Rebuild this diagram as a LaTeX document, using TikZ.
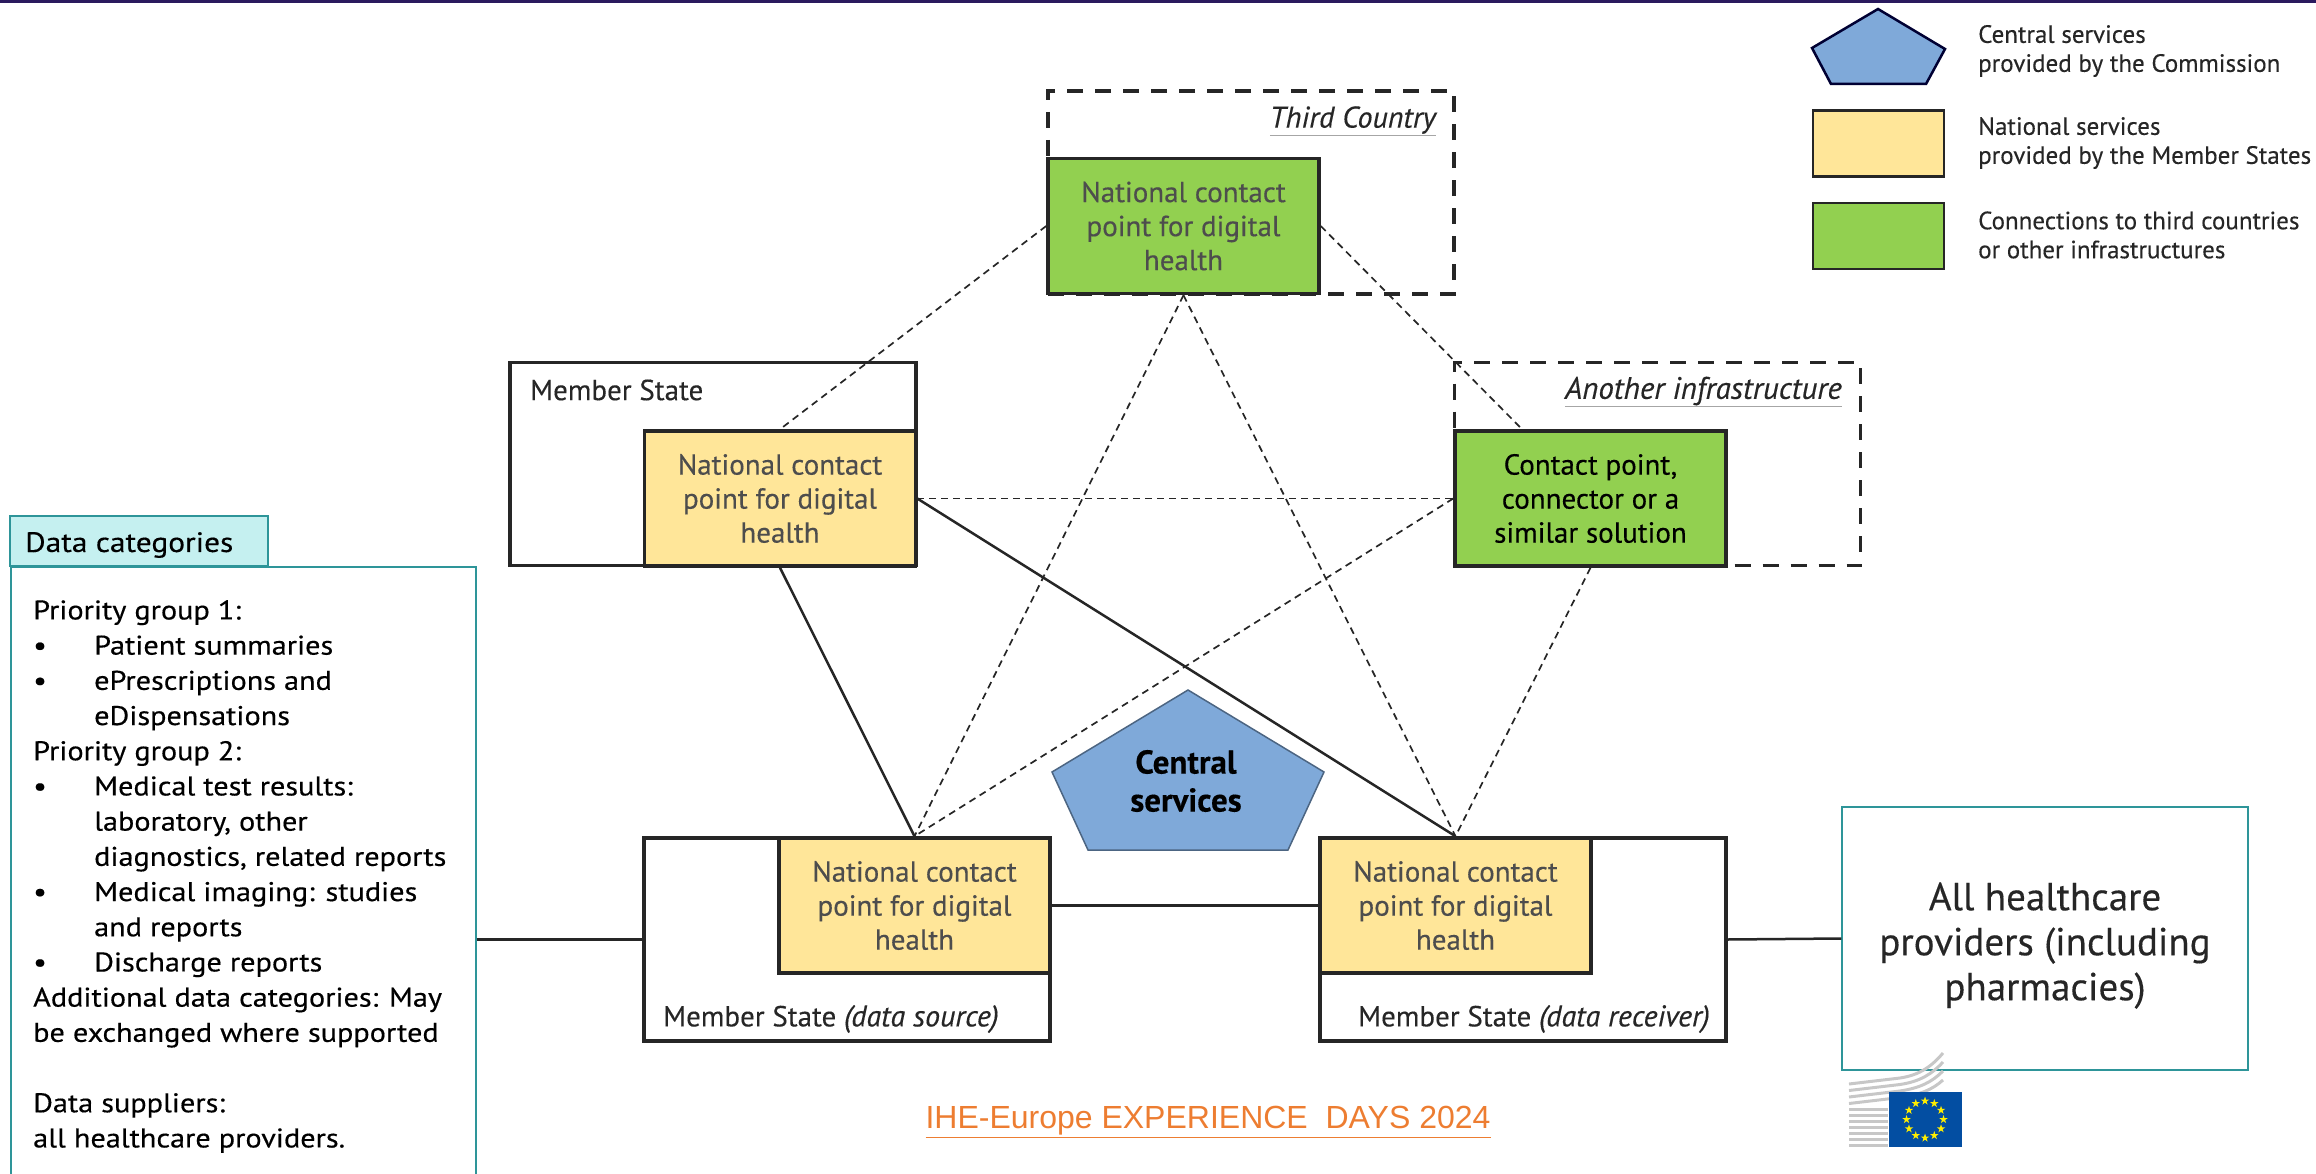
\documentclass[tikz,border=0pt]{standalone}
\usepackage{fontspec}
\usepackage{xcolor}
\usetikzlibrary{calc}
\setmainfont[FakeBold=0.3]{PT Sans}
\newfontfamily\widefont[FakeStretch=1.12,FakeBold=0.4]{PT Sans}
\definecolor{ncpyellow}{HTML}{FFE699}
\definecolor{ncpgreen}{HTML}{92D050}
\definecolor{csblue}{HTML}{7FA9D9}
\definecolor{tabcyan}{HTML}{C5F0F0}
\definecolor{tealline}{HTML}{2E9599}
\definecolor{inktext}{HTML}{262626}
\definecolor{softtext}{HTML}{4D4D4D}
\definecolor{ihetext}{HTML}{ED7D31}
\definecolor{flagblue}{HTML}{034EA2}
\definecolor{staryellow}{HTML}{FFED00}
\definecolor{topbar}{HTML}{2A1A5E}
\newcommand{\dcitem}{\makebox[61pt][l]{•}}
\newcommand{\dcgap}{\hspace*{61pt}}
\newcommand{\greyunder}[1]{\textcolor{gray!70}{\underline{\textcolor{inktext}{#1}}}}
\newcommand{\tagit}[1]{{\fontsize{30}{30}\selectfont\textit{#1}}}
\begin{document}
\begin{tikzpicture}[x=1pt, y=-1pt,
  ncp/.style = {draw=inktext, line width=3.5pt, minimum width=271pt, minimum height=135pt, inner sep=0pt, align=center, font=\fontsize{29}{34}\selectfont},
  national/.style = {ncp, fill=ncpyellow, text=softtext},
  connect/.style = {ncp, fill=ncpgreen, text=softtext},
  msbox/.style = {draw=inktext, line width=3.5pt, minimum width=406pt, minimum height=203pt, inner sep=0pt},
  dashbox/.style = {msbox, line width=3.5pt, dash pattern=on 16pt off 12pt},
  tag/.style = {font=\fontsize{29}{30}\selectfont, text=inktext, inner sep=0pt},
  link/.style = {draw=inktext, line width=1.7pt, dash pattern=on 7pt off 5pt},
  solid link/.style = {draw=inktext, line width=2.5pt},
  legend/.style = {draw=inktext, line width=2.5pt, minimum width=131pt, minimum height=66pt, inner sep=0pt},
  legtext/.style = {anchor=west, inner sep=0pt, align=left, text=inktext, font=\fontsize{25}{29}\selectfont}]
\clip (0,0) rectangle (2316,1174);
\fill[topbar] (0,0) rectangle (2316,3);

\node[dashbox] (tcbox) at (1251,192.5) {};
\node[dashbox] (aibox) at (1657.5,464) {};
\node[msbox] (lbox) at (713,464) {};
\node[msbox] (bsbox) at (847,939.5) {};
\node[msbox] (brbox) at (1523,939.5) {};

\node[connect] (third) at (1183.5,226) {National contact\\point for digital\\health};
\node[national] (left) at (780,498.5) {National contact\\point for digital\\health};
\node[connect, text=black, right of=left, node distance=810.5pt] (right) {Contact point,\\connector or a\\similar solution};
\node[national] (source) at (914.5,905.5) {National contact\\point for digital\\health};
\node[national, right of=source, node distance=541pt] (receiver) {National contact\\point for digital\\health};

\draw[link] (third.west) -- (left.north);
\draw[link] (third.east) -- (right);
\draw[link] (third.south) -- (source.north);
\draw[link] (third.south) -- (receiver.north);
\draw[link] (left.east) -- (right.west);
\draw[link] (right.west) -- (source.north);
\draw[link] (right.south) -- (receiver.north);
\draw[solid link] (left.south) -- (source.north);
\draw[solid link] (left.east) -- (receiver.north);
\draw[solid link] (source.east) -- (receiver.west);

\node[tag, anchor=east] (tclabel) at (1436,121) {\tagit{\greyunder{Third Country}}};
\node[tag, anchor=east, font=\fontsize{31}{30}\selectfont] (ailabel) at (1842,392) {{\fontsize{31}{30}\selectfont\textit{\greyunder{Another infrastructure}}}};
\node[tag, anchor=west] (llabel) at (530,390) {Member State};
\node[tag, anchor=west] (slabel) at (663,1019) {Member State \tagit{(data source)}};
\node[tag, anchor=west] (rlabel) at (1358,1019) {Member State \tagit{(data receiver)}};

\draw[draw=csblue!60!black, fill=csblue, line width=1.5pt] (1188,690) -- (1324,772) -- (1288,850) -- (1088,850) -- (1052,772) -- cycle;
\node[align=center, text=black, font=\fontsize{33}{38}\selectfont\bfseries] (central) at (1186,781) {Central\\services};

\node[draw=tealline, line width=1.5pt, fill=tabcyan, minimum width=258pt, minimum height=50pt, inner sep=0pt] (tab) at (139,541) {};
\node[anchor=west, inner sep=0pt, text=black, font=\widefont\fontsize{28}{30}\selectfont] (tabtext) at (25,545) {Data categories};
\node[draw=tealline, line width=1.5pt, anchor=north west, minimum width=465pt, minimum height=640pt, inner sep=0pt] (data) at (10,566) {};
\node[anchor=north west, inner sep=0pt, align=left, text=black, font=\widefont\fontsize{27}{35.2}\selectfont] (datatext) at (33,600) {Priority group 1:\\
\dcitem Patient summaries\\
\dcitem ePrescriptions and\\
\dcgap eDispensations\\
Priority group 2:\\
\dcitem Medical test results:\\
\dcgap laboratory, other\\
\dcgap diagnostics, related reports\\
\dcitem Medical imaging: studies\\
\dcgap and reports\\
\dcitem Discharge reports\\
Additional data categories: May\\
be exchanged where supported\\
\\
Data suppliers:\\
all healthcare providers.};

\node[draw=tealline, line width=1.5pt, minimum width=406pt, minimum height=263pt, inner sep=0pt, align=center, text=inktext, font=\fontsize{39}{45}\selectfont] (prov) at (2045,938.5) {\rule{0pt}{42pt}All healthcare\\providers (including\\pharmacies)};
\draw[solid link] (data.east |- bsbox.west) -- (bsbox.west);
\draw[solid link] (brbox.east) -- (prov.west);

\draw[draw=black!80!blue, fill=csblue, line width=2.5pt] (1878,9) -- (1945,49) -- (1926,84) -- (1831,84) -- (1812,48) -- cycle;
\node[legtext] (leg1) at (1978,51) {Central services\\provided by the Commission};
\node[legend, fill=ncpyellow] (leg2box) at (1878.5,143.5) {};
\node[legend, fill=ncpgreen, below of=leg2box, node distance=92.5pt] (leg3box) {};
\node[legtext] (leg2) at (1978,143) {National services\\provided by the Member States};
\node[legtext] (leg3) at (1978,235) {Connections to third countries\\or other infrastructures};

\node[inner sep=0pt, text=ihetext, font=\fontsize{32}{36}\selectfont\fontspec{Liberation Sans}] (ihe) at (1208,1122) {\underline{IHE-Europe EXPERIENCE\ \ DAYS 2024}};

\foreach \i in {0,...,6}
  \fill[black!22] (1849,1147-6*\i) rectangle (1888,1147-6*\i-3.2);
\foreach \i in {0,...,3}
  \draw[black!22, line width=3pt] (1849,1084+6.5*\i) -- (1900,1078+6.5*\i) .. controls (1920,1075+6.5*\i) and (1932,1066+8*\i) .. (1943,1053+9*\i);
\node[fill=flagblue, minimum width=73pt, minimum height=55pt, inner sep=0pt] (flag) at (1925,1119.5) {};
\foreach \i in {0,...,11}
  \fill[staryellow] ($(flag.center)+(\i*30:18.5pt)$) ++(90:4.5pt) -- ++(-72:8.5pt) -- ++(144:8.5pt) -- ++(0:8.5pt) -- ++(-144:8.5pt) -- cycle;
\end{tikzpicture}
\end{document}
